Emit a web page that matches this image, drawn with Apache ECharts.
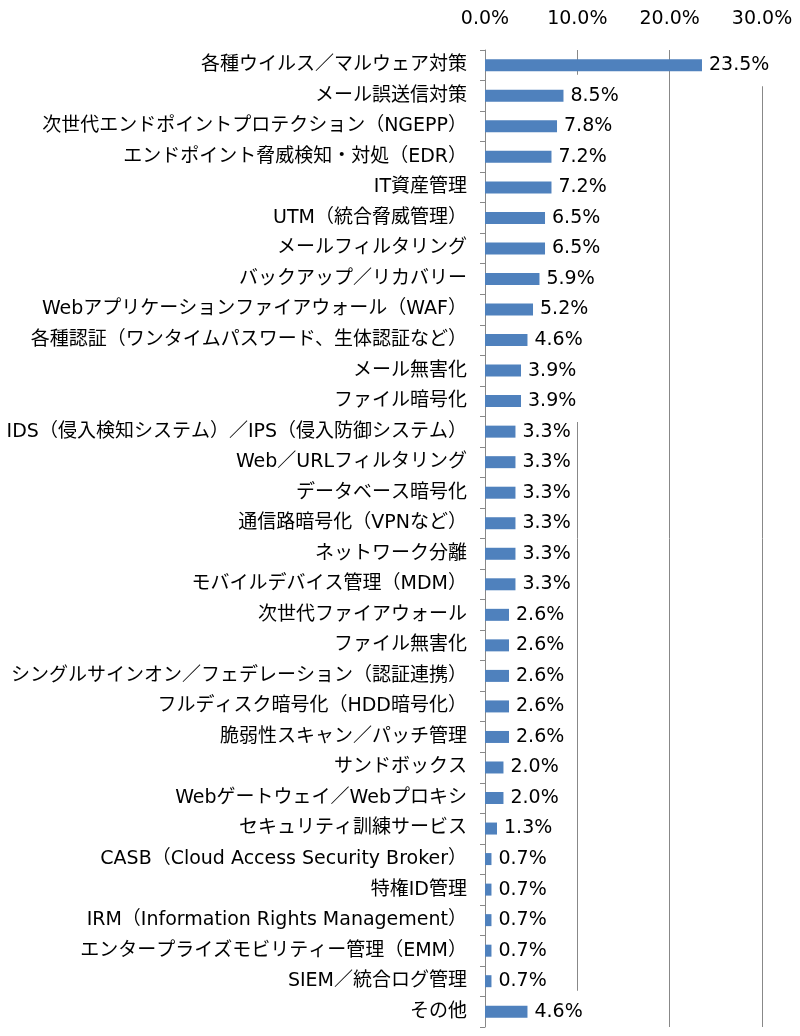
<!DOCTYPE html>
<html>
<head>
<meta charset="utf-8">
<script src="https://cdn.jsdelivr.net/npm/echarts@6/dist/echarts.min.js"></script>
<style>
html,body{margin:0;padding:0;background:#fff;}
#chart{width:800px;height:1036px;}
</style>
</head>
<body>
<div id="chart"></div>
<script>
var categories = [
  '各種ウイルス／マルウェア対策',
  'メール誤送信対策',
  '次世代エンドポイントプロテクション（NGEPP）',
  'エンドポイント脅威検知・対処（EDR）',
  'IT資産管理',
  'UTM（統合脅威管理）',
  'メールフィルタリング',
  'バックアップ／リカバリー',
  'Webアプリケーションファイアウォール（WAF）',
  '各種認証（ワンタイムパスワード、生体認証など）',
  'メール無害化',
  'ファイル暗号化',
  'IDS（侵入検知システム）／IPS（侵入防御システム）',
  'Web／URLフィルタリング',
  'データベース暗号化',
  '通信路暗号化（VPNなど）',
  'ネットワーク分離',
  'モバイルデバイス管理（MDM）',
  '次世代ファイアウォール',
  'ファイル無害化',
  'シングルサインオン／フェデレーション（認証連携）',
  'フルディスク暗号化（HDD暗号化）',
  '脆弱性スキャン／パッチ管理',
  'サンドボックス',
  'Webゲートウェイ／Webプロキシ',
  'セキュリティ訓練サービス',
  'CASB（Cloud Access Security Broker）',
  '特権ID管理',
  'IRM（Information Rights Management）',
  'エンタープライズモビリティー管理（EMM）',
  'SIEM／統合ログ管理',
  'その他'
];
var values = [23.5, 8.5, 7.8, 7.2, 7.2, 6.5, 6.5, 5.9, 5.2, 4.6, 3.9, 3.9,
  3.3, 3.3, 3.3, 3.3, 3.3, 3.3, 2.6, 2.6, 2.6, 2.6, 2.6, 2.0, 2.0, 1.3,
  0.7, 0.7, 0.7, 0.7, 0.7, 4.6];
var axisMin = 0, axisMax = 30, axisInterval = 10;

var FONT = '"DejaVu Sans", "Noto Sans CJK JP", sans-serif';
var chart = echarts.init(document.getElementById('chart'), null, {renderer: 'canvas'});
chart.setOption({
  animation: false,
  backgroundColor: '#fff',
  grid: {left: 485, right: 38, top: 50, bottom: 9, containLabel: false},
  xAxis: {
    type: 'value',
    position: 'top',
    min: axisMin, max: axisMax, interval: axisInterval,
    axisLine: {show: false},
    axisTick: {show: false},
    splitLine: {show: true, lineStyle: {color: '#888', width: 1}},
    axisLabel: {
      margin: 21,
      fontFamily: FONT, fontSize: 19, color: '#000',
      formatter: function (v) { return v.toFixed(1) + '%'; }
    }
  },
  yAxis: {
    type: 'category',
    data: categories,
    inverse: true,
    axisLine: {show: true, lineStyle: {color: '#888', width: 1}},
    axisTick: {show: true, length: 5, lineStyle: {color: '#888'}},
    axisLabel: {
      margin: 18, interval: 0,
      fontFamily: FONT, fontSize: 19, color: '#000'
    }
  },
  series: [{
    type: 'bar',
    data: values,
    barWidth: 12,
    itemStyle: {color: '#4F81BD'},
    label: {
      show: true,
      position: 'right',
      distance: 4,
      fontFamily: FONT, fontSize: 19, color: '#000',
      backgroundColor: '#fff',
      padding: [11, 3, 11, 3],
      lineHeight: 20,
      formatter: function (p) { return p.value.toFixed(1) + '%'; }
    }
  }]
});
</script>
</body>
</html>
